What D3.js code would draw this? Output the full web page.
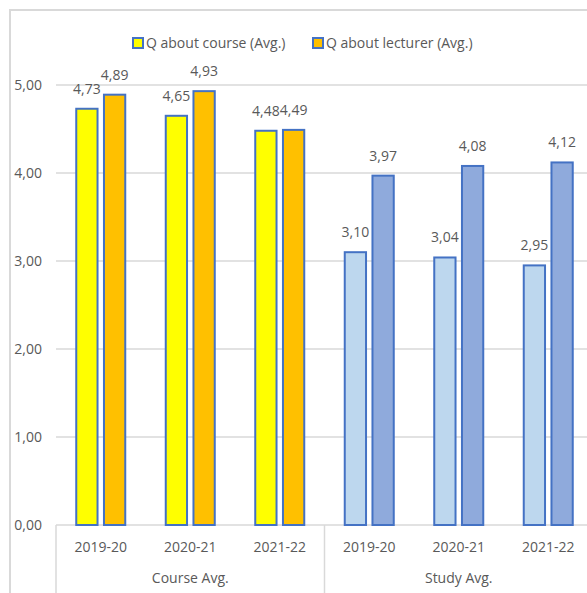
<!DOCTYPE html>
<html>
<head>
<meta charset="utf-8">
<script src="https://cdn.jsdelivr.net/npm/d3@7"></script>
<style>
    body { margin: 0; background: #fff; }
    text { font-family: "Open Sans", "Noto Sans", sans-serif; fill: #595959; }
</style>
</head>
<body>
<script>
    "use strict";

    var groups = ["Course Avg.", "Study Avg."];
    var years = ["2019-20", "2020-21", "2021-22"];
    var courseQ = [4.73, 4.65, 4.48, 3.10, 3.04, 2.95];
    var lecturerQ = [4.89, 4.93, 4.49, 3.97, 4.08, 4.12];
    var seriesNames = ["Q about course (Avg.)", "Q about lecturer (Avg.)"];
    var yTicks = [0, 1, 2, 3, 4, 5];

    var width = 587,
        height = 593,
        plotLeft = 56,
        plotTop = 85,
        plotBottom = 525,
        step = 89.5,
        fontSize = 14;

    var cats = [];
    groups.forEach(function(g, gi) {
        years.forEach(function(y, yi) {
            cats.push({ group: g, year: y, gi: gi, i: gi * years.length + yi });
        });
    });

    var fills = [["#FFFF00", "#FFC000"], ["#BDD7EE", "#8FAADC"]];
    var stroke = "#4472C4";

    var xScale = d3.scaleBand()
                   .domain(d3.range(cats.length))
                   .range([plotLeft, plotLeft + step * cats.length]);

    var inner = d3.scaleBand()
                  .domain([0, 1])
                  .range([-25.5, 25.5])
                  .paddingInner(0.16)
                  .paddingOuter(0);

    var yScale = d3.scaleLinear()
                   .domain([0, 5])
                   .range([plotBottom, plotTop]);

    var fmt = function(v) { return d3.format(".2f")(v).replace(".", ","); };

    var svg = d3.select("body").append("svg")
        .attr("width", width)
        .attr("height", height);

    // outer frame (only top/left visible in the crop)
    svg.append("rect")
        .attr("x", 10).attr("y", 10)
        .attr("width", width + 20).attr("height", height + 20)
        .attr("fill", "none")
        .attr("stroke", "#d9d9d9")
        .attr("stroke-width", 2);

    // gridlines
    svg.append("g")
        .selectAll("line")
        .data(yTicks.slice(1))
        .enter().append("line")
            .attr("x1", plotLeft).attr("x2", width)
            .attr("y1", function(d) { return yScale(d); })
            .attr("y2", function(d) { return yScale(d); })
            .attr("stroke", "#d9d9d9")
            .attr("stroke-width", 1.5);

    // y axis labels
    var yAxis = d3.axisLeft(yScale)
        .tickValues(yTicks)
        .tickFormat(fmt)
        .tickSize(0)
        .tickPadding(14);

    svg.append("g")
        .attr("transform", "translate(" + plotLeft + ",0)")
        .call(yAxis)
        .call(function(g) { g.select(".domain").remove(); })
        .selectAll("text")
            .attr("font-size", fontSize)
            .attr("fill", "#595959")
            .style("font-family", "Open Sans, Noto Sans, sans-serif");

    // x axis line + separators
    svg.append("line")
        .attr("x1", plotLeft).attr("x2", width)
        .attr("y1", plotBottom).attr("y2", plotBottom)
        .attr("stroke", "#d9d9d9")
        .attr("stroke-width", 1.5);

    svg.append("g")
        .selectAll("line")
        .data(d3.range(groups.length + 1))
        .enter().append("line")
            .attr("x1", function(d) { return plotLeft + d * years.length * step; })
            .attr("x2", function(d) { return plotLeft + d * years.length * step; })
            .attr("y1", plotBottom).attr("y2", height)
            .attr("stroke", "#d9d9d9")
            .attr("stroke-width", 1.5);

    // bars
    var catG = svg.append("g")
        .selectAll("g")
        .data(cats)
        .enter().append("g")
            .attr("transform", function(d) {
                return "translate(" + (xScale(d.i) + xScale.bandwidth() / 2) + ",0)";
            });

    var series = [courseQ, lecturerQ];
    [0, 1].forEach(function(s) {
        catG.append("rect")
            .attr("x", inner(s) + 1)
            .attr("width", inner.bandwidth() - 2)
            .attr("y", function(d) { return yScale(series[s][d.i]); })
            .attr("height", function(d) { return plotBottom - yScale(series[s][d.i]); })
            .attr("fill", function(d) { return fills[d.gi][s]; })
            .attr("stroke", stroke)
            .attr("stroke-width", 2);

        catG.append("text")
            .attr("x", inner(s) + inner.bandwidth() / 2)
            .attr("y", function(d) { return yScale(series[s][d.i]) - 15; })
            .attr("text-anchor", "middle")
            .attr("font-size", fontSize)
            .text(function(d) { return fmt(series[s][d.i]); });
    });

    // category labels
    catG.append("text")
        .attr("y", 552)
        .attr("text-anchor", "middle")
        .attr("font-size", fontSize)
        .text(function(d) { return d.year; });

    svg.append("g")
        .selectAll("text")
        .data(groups)
        .enter().append("text")
            .attr("x", function(d, i) { return plotLeft + (i + 0.5) * years.length * step; })
            .attr("y", 583)
            .attr("text-anchor", "middle")
            .attr("font-size", fontSize)
            .text(function(d) { return d; });

    // legend
    var legendX = [133, 313];
    var leg = svg.append("g")
        .selectAll("g")
        .data(seriesNames)
        .enter().append("g")
            .attr("transform", function(d, i) { return "translate(" + legendX[i] + ",38)"; });

    leg.append("rect")
        .attr("width", 10).attr("height", 10)
        .attr("fill", function(d, i) { return fills[0][i]; })
        .attr("stroke", stroke)
        .attr("stroke-width", 2);

    leg.append("text")
        .attr("x", 13)
        .attr("y", 10)
        .attr("font-size", fontSize)
        .text(function(d) { return d; });
</script>
</body>
</html>
